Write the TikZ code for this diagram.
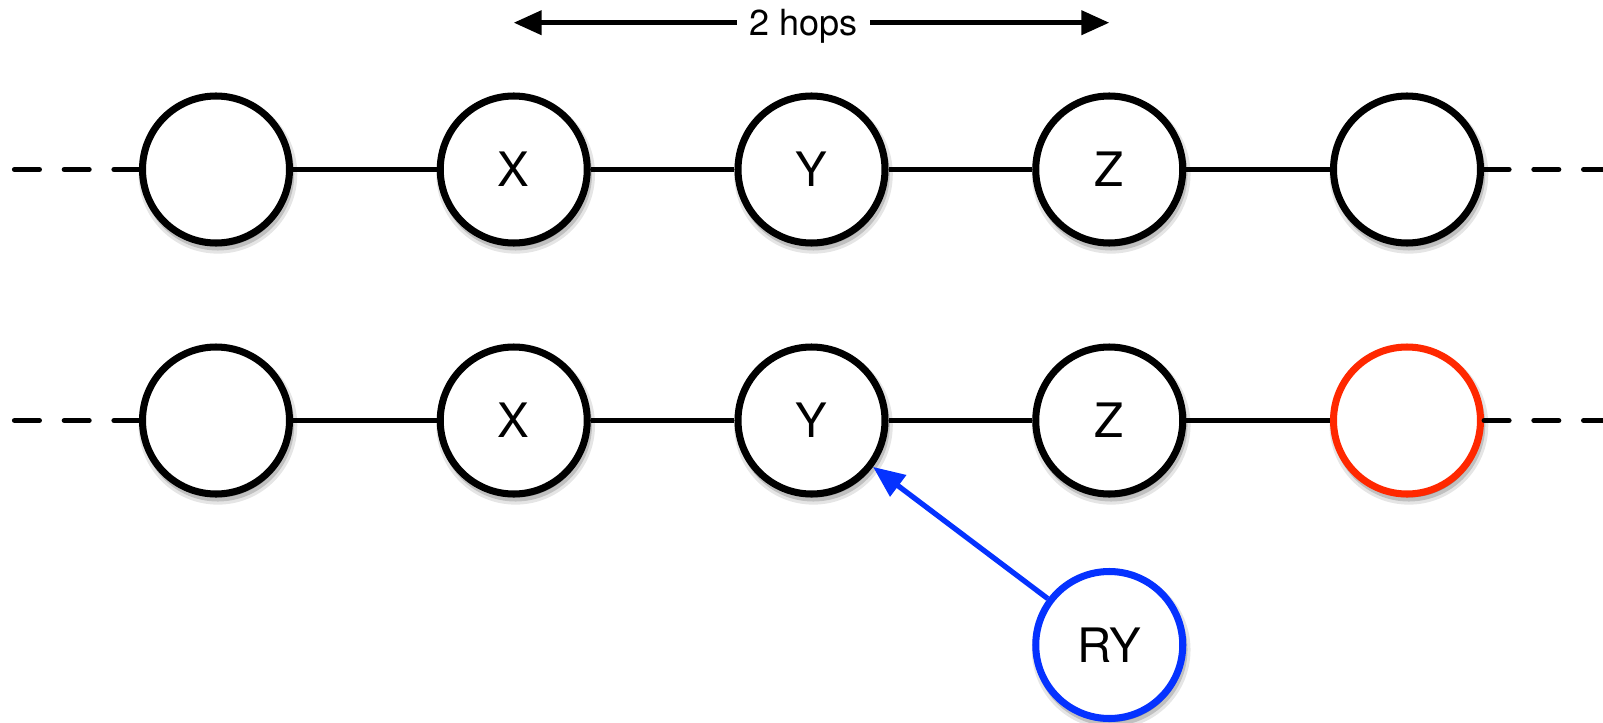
\documentclass[tikz,border=0pt]{standalone}
\usepackage{fontspec}
\setmainfont{TeX Gyre Heros}
\usetikzlibrary{positioning,arrows.meta,shadows}
\definecolor{ryblue}{RGB}{5,50,255}
\definecolor{hopred}{RGB}{255,40,0}
\tikzset{
  peer/.style={circle,draw=black,line width=4pt,fill=white,minimum size=2.94cm,inner sep=0pt,
    font=\fontsize{27}{31}\selectfont,
    general shadow={fill=black,opacity=.1,shadow scale=1.08,shadow xshift=1pt,shadow yshift=-2.5pt},
    general shadow={fill=black,opacity=.16,shadow scale=1.04,shadow xshift=1pt,shadow yshift=-2.5pt},
    general shadow={fill=black,opacity=.25,shadow xshift=1pt,shadow yshift=-2pt}},
  link/.style={line width=2.8pt},
  farlink/.style={line width=2.8pt,line cap=round,dash pattern=on 14.3pt off 14pt},
  hop/.style={line width=2.6pt,{Triangle[length=15.9pt,width=13.6pt]}-{Triangle[length=15.9pt,width=13.6pt]}},
  replica/.style={ryblue,line width=3pt,-{Triangle[length=18pt,width=14.7pt]}}
}

\begin{document}
\begin{tikzpicture}[node distance=5.955cm and 5.955cm, on grid]
    \useasboundingbox (0,0) rectangle (32.06,-14.46);
    % Upper chain
    \node[peer] (u1) at (4.32,-3.39) {};
    \node[peer,right=of u1] (ux) {X};
    \node[peer,right=of ux] (uy) {Y};
    \node[peer,right=of uy] (uz) {Z};
    \node[peer,right=of uz] (u5) {};
    % Lower chain, last node in red
    \node[peer,below=5.02cm of u1] (l1) {};
    \node[peer,right=of l1] (lx) {X};
    \node[peer,right=of lx] (ly) {Y};
    \node[peer,right=of ly] (lz) {Z};
    \node[peer,draw=hopred,right=of lz] (l5) {};
    % Replica of Y
    \node[peer,draw=ryblue,below=4.49cm of lz] (ry) {RY};
    % Loose ends of both chains
    \coordinate (uw) at (0.28,-3.39);
    \coordinate (ue) at (32.06,-3.39);
    \coordinate (lw) at (0.28,-8.41);
    \coordinate (le) at (32.06,-8.41);
    \draw[farlink] (u1) -- (uw);
    \draw[farlink] (u5) -- (ue);
    \draw[farlink] (l1) -- (lw);
    \draw[farlink] (l5) -- (le);
    % Links
    \draw[link] (u1) -- (ux) (ux) -- (uy) (uy) -- (uz) (uz) -- (u5);
    \draw[link] (l1) -- (lx) (lx) -- (ly) (ly) -- (lz) (lz) -- (l5);
    % Distance marker
    \coordinate (hl) at (ux |- 0,-0.454);
    \coordinate (hr) at (uz |- 0,-0.454);
    \draw[hop] (hl) -- node[pos=.486,fill=white,text depth=0pt,inner xsep=7pt,
        font=\fontsize{20.5}{24}\selectfont] (hoplabel) {2 hops} (hr);
    \draw[replica] (ry) -- (ly);
\end{tikzpicture}
\end{document}
